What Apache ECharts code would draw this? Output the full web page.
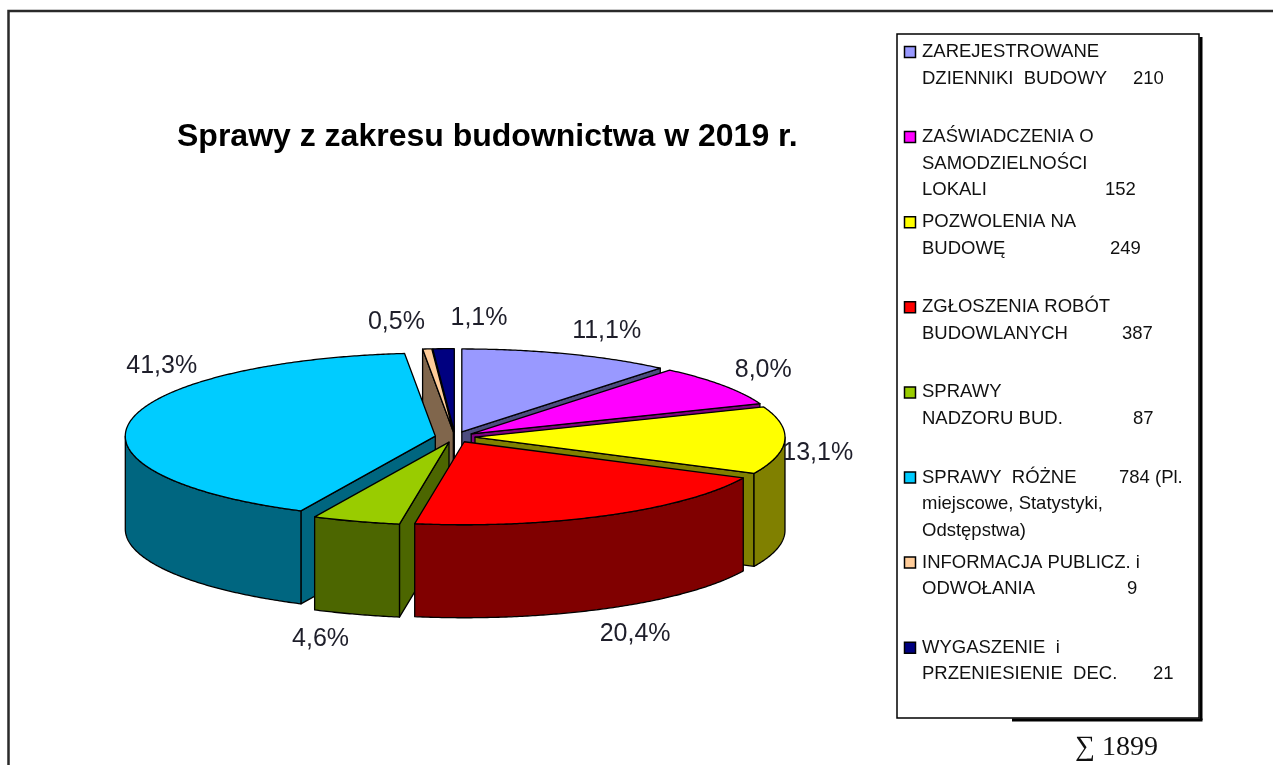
<!DOCTYPE html>
<html>
<head>
<meta charset="utf-8">
<script src="https://cdn.jsdelivr.net/npm/echarts@6/dist/echarts.min.js"></script>
<style>
  html, body { margin: 0; padding: 0; background: #fff; }
  #chart { width: 1273px; height: 765px; }
</style>
</head>
<body>
<div id="chart"></div>
<script>
// ---- data ----
const title = 'Sprawy z zakresu budownictwa w 2019 r.';
const categories = [
  'Zarejestrowane dzienniki budowy',
  'Zaświadczenia o samodzielności lokali',
  'Pozwolenia na budowę',
  'Zgłoszenia robót budowlanych',
  'Sprawy nadzoru bud.',
  'Sprawy różne',
  'Informacja publicz. i odwołania',
  'Wygaszenie i przeniesienie dec.'
];
const values = [210, 152, 249, 387, 87, 784, 9, 21];
const legendLines = [
  ['ZAREJESTROWANE', 'DZIENNIKI  BUDOWY'],
  ['ZAŚWIADCZENIA O', 'SAMODZIELNOŚCI', 'LOKALI'],
  ['POZWOLENIA NA', 'BUDOWĘ'],
  ['ZGŁOSZENIA ROBÓT', 'BUDOWLANYCH'],
  ['SPRAWY', 'NADZORU BUD.'],
  ['SPRAWY  RÓŻNE', 'miejscowe, Statystyki,', 'Odstępstwa)'],
  ['INFORMACJA PUBLICZ. i', 'ODWOŁANIA'],
  ['WYGASZENIE  i', 'PRZENIESIENIE  DEC.']
];
const legendValueLine = [1, 2, 1, 1, 1, 0, 1, 1];
const legendValueSuffix = ['', '', '', '', '', ' (Pl.', '', ''];

// ---- style ----
const topColors  = ['#9999FF', '#FF00FF', '#FFFF00', '#FF0000', '#99CC00', '#00CCFF', '#FFCC99', '#000080'];
const sideColors = ['#4C4C80', '#800080', '#808000', '#800000', '#4C6600', '#006680', '#80664C', '#000040'];
const legendValueX = [1133, 1105, 1110, 1122, 1133, 1119, 1127, 1153];
// fine offsets (px) of the percentage labels from their radial anchor
const labelNudge = [[24, 5], [4, 2], [-12, 8], [7, 10], [-22, 0], [76, -50], [-27, 3], [37, -1]];

const FONT = '"Liberation Sans", Arial, sans-serif';
const DEPTH = 93 / 83;     // slab thickness in vertical units
const EXPLODE = 20 / 310;  // radial explosion in radius units

const total = values.reduce((a, b) => a + b, 0);
const cum = [0];
values.forEach(v => cum.push(cum[cum.length - 1] + v));

function geom(i) {
  const a0 = cum[i] / total * 2 * Math.PI;
  const a1 = cum[i + 1] / total * 2 * Math.PI;
  const m = (a0 + a1) / 2;
  return { a0, a1, m, ox: EXPLODE * Math.sin(m), oy: -EXPLODE * Math.cos(m) };
}
function rim(g, a, drop) {
  return [g.ox + Math.sin(a), g.oy - Math.cos(a) + (drop ? DEPTH : 0)];
}
function arc(g, a, b, drop) {
  const n = Math.max(2, Math.ceil((b - a) / (Math.PI / 360)));
  const pts = [];
  for (let j = 0; j <= n; j++) pts.push(rim(g, a + (b - a) * j / n, drop));
  return pts;
}

// painter's order for the side walls: slices reaching further to the front go last
const frontKey = values.map((v, i) => {
  const g = geom(i);
  const k = (g.a0 <= Math.PI && g.a1 >= Math.PI) ? 1 : Math.max(-Math.cos(g.a0), -Math.cos(g.a1));
  return k + g.oy;
});
const order = frontKey.map((k, i) => i).sort((a, b) => frontKey[a] - frontKey[b]);
const wallZ = [];
order.forEach((idx, pos) => { wallZ[idx] = pos + 1; });

function renderWalls(params, api) {
  const i = params.dataIndex;
  const g = geom(i);
  const C = p => api.coord(p);
  const style = { fill: sideColors[i], stroke: '#000', lineWidth: 1.3, lineJoin: 'round' };
  const apexT = [g.ox, g.oy], apexB = [g.ox, g.oy + DEPTH];
  const children = [];
  if (Math.sin(g.a0) < -1e-6) {
    children.push({ type: 'polygon', shape: { points: [apexT, rim(g, g.a0), rim(g, g.a0, true), apexB].map(C) }, style });
  }
  if (Math.sin(g.a1) > 1e-6) {
    children.push({ type: 'polygon', shape: { points: [apexT, rim(g, g.a1), rim(g, g.a1, true), apexB].map(C) }, style });
  }
  const s = Math.max(g.a0, Math.PI / 2), e = Math.min(g.a1, 1.5 * Math.PI);
  if (e > s) {
    const pts = arc(g, s, e, false).concat(arc(g, s, e, true).reverse());
    children.push({ type: 'polygon', shape: { points: pts.map(C) }, style });
  }
  children.forEach(c => { c.z2 = wallZ[i]; });
  return { type: 'group', children };
}

function renderTops(params, api) {
  const i = params.dataIndex;
  const g = geom(i);
  const C = p => api.coord(p);
  const pts = [[g.ox, g.oy]].concat(arc(g, g.a0, g.a1, false));
  const v = api.value(2);
  const pct = (v / total * 100).toFixed(1).replace('.', ',') + '%';
  const sm = Math.sin(g.m), cm = Math.cos(g.m);
  const anchor = C([g.ox + (1 + 45 / 310) * sm, g.oy - (1 + 30 / 83) * cm + DEPTH * Math.max(0, -cm)]);
  return {
    type: 'group',
    children: [
      { type: 'polygon', z2: 1, shape: { points: pts.map(C) },
        style: { fill: topColors[i], stroke: '#000', lineWidth: 1.3, lineJoin: 'round' } },
      { type: 'text', z2: 2, x: anchor[0] + labelNudge[i][0], y: anchor[1] + labelNudge[i][1],
        style: { text: pct, font: '25px ' + FONT, fill: '#1e1e2a',
                 align: 'center', verticalAlign: 'middle', textAlign: 'center', textVerticalAlign: 'middle' } }
    ]
  };
}

const seriesData = values.map((v, i) => ({ name: categories[i], value: [0, 0, v] }));

// ---- legend box (drawn as graphics) ----
const legendEls = [];
const LEG_X = 897, LEG_Y = 34, LEG_W = 302, LEG_H = 684;
const LEG_FONT = '18.5px ' + FONT;
legendEls.push({ type: 'line', shape: { x1: LEG_X + LEG_W + 2, y1: LEG_Y + 3, x2: LEG_X + LEG_W + 2, y2: LEG_Y + LEG_H + 2 },
                 style: { stroke: '#000', lineWidth: 3 } });
legendEls.push({ type: 'line', shape: { x1: 1012, y1: LEG_Y + LEG_H + 2, x2: LEG_X + LEG_W + 3.5, y2: LEG_Y + LEG_H + 2 },
                 style: { stroke: '#000', lineWidth: 3 } });
legendEls.push({ type: 'rect', shape: { x: LEG_X, y: LEG_Y, width: LEG_W, height: LEG_H },
                 style: { fill: '#fff', stroke: '#000', lineWidth: 1.5 } });
legendLines.forEach((lines, i) => {
  const y0 = 52 + 85.1 * i;
  legendEls.push({ type: 'rect', shape: { x: 904.5, y: y0 - 5.5, width: 11, height: 11 },
                   style: { fill: topColors[i], stroke: '#000', lineWidth: 1.5 } });
  lines.forEach((t, j) => {
    legendEls.push({ type: 'text', x: 922, y: y0 + 26.5 * j,
                     style: { text: t, font: LEG_FONT, fill: '#111', verticalAlign: 'middle', textVerticalAlign: 'middle' } });
  });
  legendEls.push({ type: 'text', x: legendValueX[i], y: y0 + 26.5 * legendValueLine[i],
                   style: { text: String(values[i]) + legendValueSuffix[i], font: LEG_FONT, fill: '#111',
                            verticalAlign: 'middle', textVerticalAlign: 'middle' } });
});
legendEls.push({ type: 'text', x: 1075, y: 748,
                 style: { text: '∑ ' + total, font: '28px "Liberation Serif", "DejaVu Serif", serif', fill: '#111',
                          verticalAlign: 'middle', textVerticalAlign: 'middle' } });
// outer frame
legendEls.push({ type: 'polyline', shape: { points: [[8.5, 765], [8.5, 11], [1273, 11]] },
                 style: { stroke: '#2a2a2a', lineWidth: 2.5, fill: null } });

const chart = echarts.init(document.getElementById('chart'), null, { renderer: 'canvas' });
chart.setOption({
  backgroundColor: '#fff',
  animation: false,
  title: {
    text: title, left: 172, top: 116,
    textStyle: { fontFamily: FONT, fontWeight: 'bold', fontSize: 32, color: '#000' }
  },
  grid: { left: 21, top: 271, width: 868, height: 415 },
  xAxis: { type: 'value', min: -1.4, max: 1.4, show: false },
  yAxis: { type: 'value', min: -2, max: 3, inverse: true, show: false },
  graphic: { elements: legendEls },
  series: [
    { type: 'custom', name: 'walls', coordinateSystem: 'cartesian2d', z: 2, silent: true,
      encode: { x: 0, y: 1 }, data: seriesData, renderItem: renderWalls },
    { type: 'custom', name: 'tops', coordinateSystem: 'cartesian2d', z: 3, silent: true,
      encode: { x: 0, y: 1 }, data: seriesData, renderItem: renderTops }
  ]
});
</script>
</body>
</html>
